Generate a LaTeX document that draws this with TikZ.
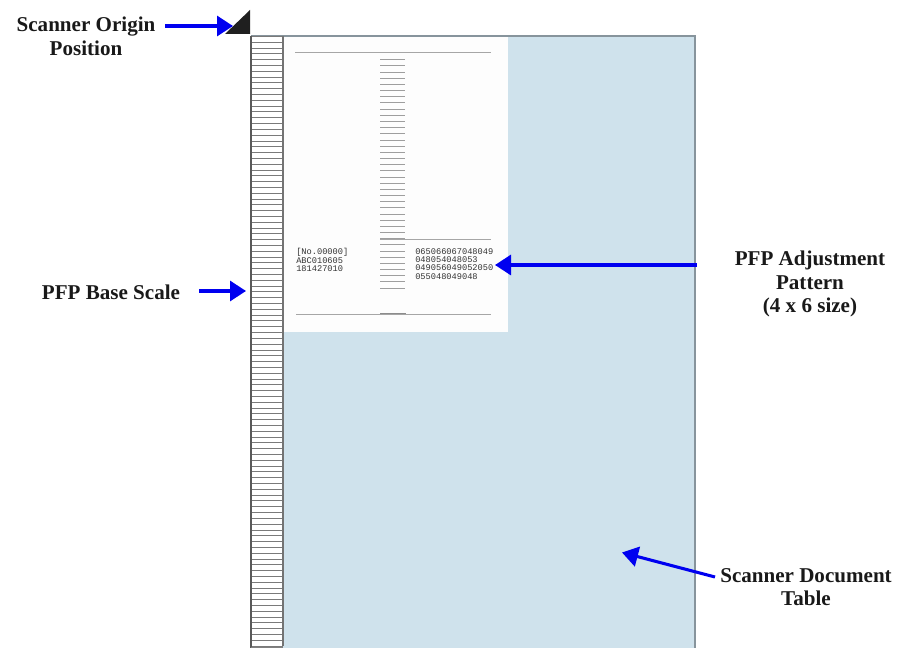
\documentclass[tikz,border=0pt]{standalone}
\usepackage{xcolor}
\usepackage{fontspec}
\setmainfont{Liberation Serif}
\setmonofont{Liberation Mono}
\usetikzlibrary{arrows.meta}
\definecolor{tablebg}{HTML}{CFE2EC}
\definecolor{edge}{HTML}{87949C}
\definecolor{paper}{HTML}{FDFDFD}
\definecolor{pointer}{HTML}{0000F0}

\begin{document}
\begin{tikzpicture}[
  x=0.75pt, y=-0.75pt,
  lbl/.style={font=\fontsize{15.8}{17.8}\selectfont\bfseries, align=center, inner sep=0pt, text=black!90},
  arr/.style={-{Triangle[length=12pt,width=15pt]}, line width=2.3pt, pointer},
  tick/.style={line width=0.75pt, black!38},
  rule/.style={line width=0.75pt, black!35},
  code/.style={font=\fontsize{6.5}{6.2}\selectfont\ttfamily, align=left, inner sep=0pt, text=black!80}
]
\useasboundingbox (0,0) rectangle (899,648);
\fill[tablebg] (251,36) rectangle (695,648);
\draw[edge, line width=1.2pt] (251,36) -- (695,36) -- (695,648);
\node[fill=paper, inner sep=0pt, minimum width=225*0.75pt, minimum height=295*0.75pt] (pattern) at (395.5,184.5) {};
% base scale
\fill[white] (251,36) rectangle (283,646);
\foreach \i in {0,...,105} {
  \pgfmathsetmacro\yy{round(36+5.806*\i)+0.5}
  \draw[black!52, line width=0.75pt] (251,\yy) -- (283,\yy);
}
\draw[black!65, line width=0.8pt] (251,36) -- (251,648);
\draw[black!55, line width=0.8pt] (283,36) -- (283,646);
\draw[black!50, line width=0.8pt] (251,647.5) -- (283,647.5);
\fill[black!88] (225,34) -- (250,34) -- (250,10) -- cycle;
% pattern sheet
\draw[rule] (295,52.5) -- (491,52.5);
\draw[rule] (380,239.5) -- (491,239.5);
\draw[rule] (296,314.5) -- (491,314.5);
\draw[line width=0.9pt, black!45] (380,313.5) -- (406,313.5);
\foreach \i in {0,...,37} {
  \pgfmathsetmacro\yy{round(59.3+6.17*\i)+0.5}
  \draw[tick] (380,\yy) -- (405,\yy);
}
\node[code, anchor=north west] (left) at (296,248.3) {[No.00000]\\ABC010605\\181427010};
\node[code, anchor=north west] (right) at (415,248.3) {065066067048049\\048054048053\\049056049052050\\055048049048};
% labels
\node[lbl] (origin) at (86,36.5) {Scanner Origin\\Position};
\node[lbl] (base) at (111,292) {PFP Base Scale};
\node[lbl] (adjust) at (810,284) {PFP Adjustment\\Pattern\\(4 x 6 size)};
\node[lbl] (doc) at (806,587) {Scanner Document\\Table};
\coordinate (originstart) at (165,26);
\coordinate (origintip) at (233,26);
\coordinate (basestart) at (199,291);
\coordinate (basetip) at (246,291);
\coordinate (adjuststart) at (697,265);
\coordinate (adjusttip) at (495,265);
\coordinate (docstart) at (715,577);
\coordinate (doctip) at (622,552.5);
\draw[arr] (originstart) -- (origintip);
\draw[arr] (basestart) -- (basetip);
\draw[arr] (adjuststart) -- (adjusttip);
\draw[arr] (docstart) -- (doctip);
\end{tikzpicture}
\end{document}
